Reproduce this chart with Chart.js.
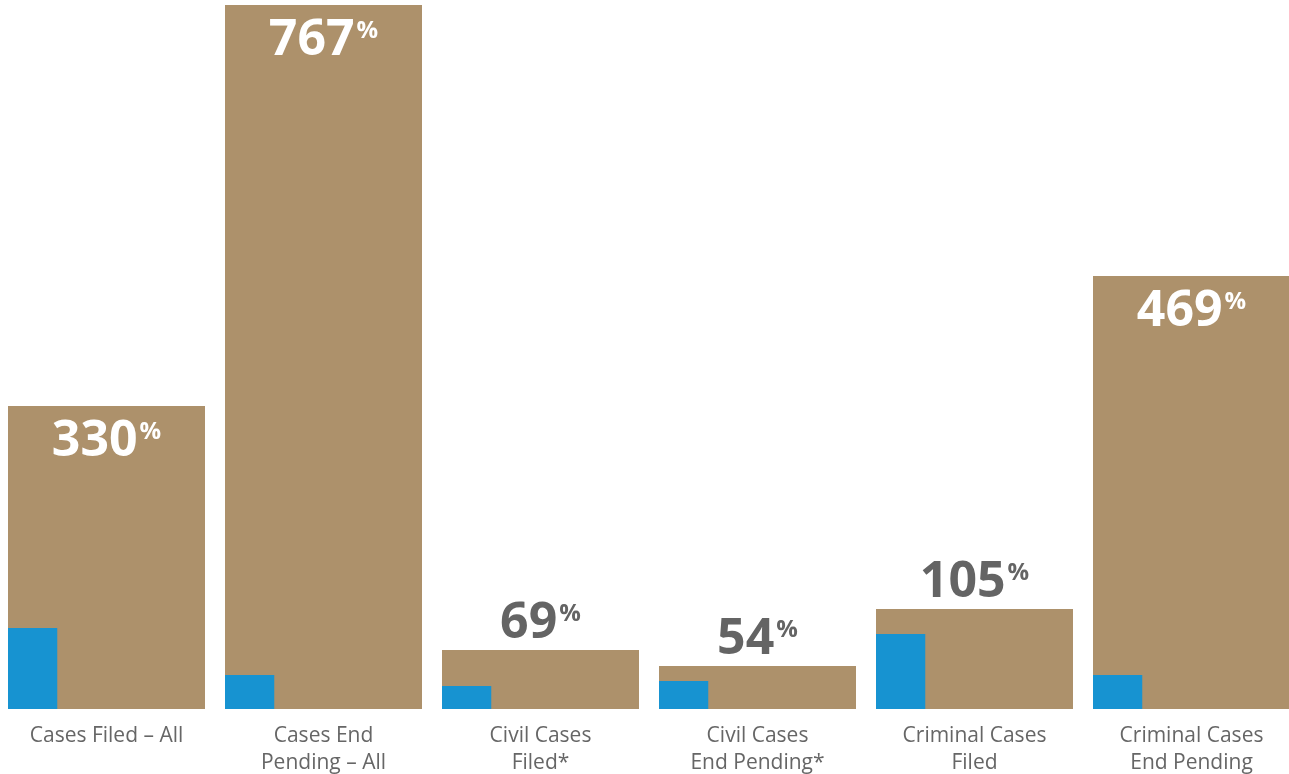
<!DOCTYPE html>
<html>
<head>
<meta charset="utf-8">
<script src="https://cdn.jsdelivr.net/npm/chart.js@4.4.1/dist/chart.umd.min.js"></script>
<style>
  html, body { margin: 0; padding: 0; background: #ffffff; overflow: hidden; }
  #wrap { position: absolute; left: -2px; top: 0; width: 1302px; height: 774px; }
</style>
</head>
<body>
<div id="wrap"><canvas id="c" width="1302" height="774"></canvas></div>
<script>
// ---- data ----
const categories = [
  "Cases Filed \u2013 All",
  ["Cases End", "Pending \u2013 All"],
  ["Civil Cases", "Filed*"],
  ["Civil Cases", "End Pending*"],
  ["Criminal Cases", "Filed"],
  ["Criminal Cases", "End Pending"]
];
const currentValues = [303, 704, 59, 43, 100, 433];   // tan bars
const baselineValues = [81, 34, 23, 28, 75, 34];      // blue bars
const growthLabels = [330, 767, 69, 54, 105, 469];    // percentage labels
const emptySlot = [null, null, null, null, null, null];

const TAN = '#AD916B';
const BLUE = '#1793D1';
const BAR_SHARE = 197 / 217;

const growthLabelPlugin = {
  id: 'growthLabels',
  afterDatasetsDraw(chart) {
    const meta = chart.getDatasetMeta(4);
    const ctx = chart.ctx;
    ctx.save();
    meta.data.forEach((bar, i) => {
      const h = bar.base - bar.y;
      const inside = h > 150;
      const num = String(growthLabels[i]);
      const bigFont = 'bold 50px "Open Sans"';
      const smallFont = 'bold 24px "Open Sans"';
      ctx.font = bigFont;
      const wNum = ctx.measureText(num).width;
      ctx.font = smallFont;
      const wPct = ctx.measureText('%').width;
      const total = wNum + wPct;
      const x0 = bar.x - total / 2 - 1;
      const baseline = inside ? bar.y + 50 : bar.y - 12;
      ctx.fillStyle = inside ? '#FFFFFF' : '#646464';
      ctx.textBaseline = 'alphabetic';
      ctx.textAlign = 'left';
      ctx.font = bigFont;
      ctx.fillText(num, x0, baseline);
      ctx.font = smallFont;
      ctx.fillText('%', x0 + wNum + 2, baseline - 17);
    });
    ctx.restore();
  }
};

new Chart(document.getElementById('c'), {
  type: 'bar',
  data: {
    labels: categories,
    datasets: [
      { label: 'Baseline', data: baselineValues, backgroundColor: BLUE,
        categoryPercentage: BAR_SHARE, barPercentage: 1, order: 0 },
      { label: 'slot1', data: emptySlot, backgroundColor: 'rgba(0,0,0,0)',
        categoryPercentage: BAR_SHARE, barPercentage: 1, order: 0 },
      { label: 'slot2', data: emptySlot, backgroundColor: 'rgba(0,0,0,0)',
        categoryPercentage: BAR_SHARE, barPercentage: 1, order: 0 },
      { label: 'slot3', data: emptySlot, backgroundColor: 'rgba(0,0,0,0)',
        categoryPercentage: BAR_SHARE, barPercentage: 1, order: 0 },
      { label: 'Current', data: currentValues, backgroundColor: TAN, grouped: false,
        categoryPercentage: BAR_SHARE, barPercentage: 1, order: 1 }
    ]
  },
  options: {
    responsive: false,
    animation: false,
    devicePixelRatio: 1,
    layout: { padding: 0 },
    plugins: { legend: { display: false }, tooltip: { enabled: false } },
    scales: {
      x: {
        grid: { display: false, drawTicks: false },
        border: { display: false },
        afterFit(scale) { scale.height = 65; },
        ticks: {
          autoSkip: false, maxRotation: 0, minRotation: 0, padding: 13,
          color: '#666666',
          font: { family: '"Open Sans"', size: 21, lineHeight: 1.3 }
        }
      },
      y: {
        display: false,
        min: 0,
        max: 709
      }
    }
  },
  plugins: [growthLabelPlugin]
});
</script>
</body>
</html>
